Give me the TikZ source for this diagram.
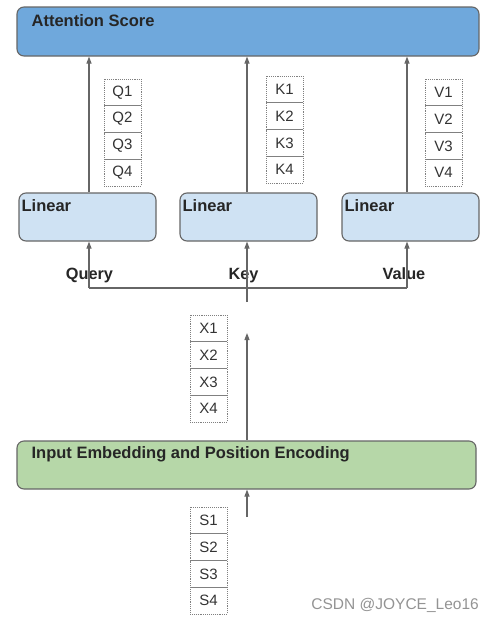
\documentclass[tikz,border=0pt]{standalone}
\usepackage{fontspec}
\setmainfont{Liberation Sans}
\usetikzlibrary{arrows.meta}

\definecolor{scoreblue}{HTML}{6FA8DC}
\definecolor{linblue}{HTML}{CFE2F3}
\definecolor{embgreen}{HTML}{B6D7A8}
\definecolor{edgegray}{HTML}{666666}

\begin{document}
\begin{tikzpicture}
[
    x=1pt, y=-1pt,
    block/.style={draw=edgegray, line width=1.1pt, rounded corners=7pt, inner sep=0pt},
    boxtitle/.style={anchor=north west, inner sep=0pt, font=\fontsize{16.5}{19}\selectfont\bfseries, text=black!85},
    cell/.style={draw=gray, densely dotted, line width=0.9pt, minimum width=37pt, minimum height=26.75pt, inner sep=0pt, font=\fontsize{15}{18}\selectfont, text=black!80},
    flow/.style={draw=edgegray, line width=1.1pt},
    feed/.style={flow, -{Triangle[width=5pt,length=7pt]}},
    port/.style={anchor=base, inner sep=0pt, font=\fontsize{16.3}{19}\selectfont\bfseries, text=black!85},
]
\useasboundingbox (0,0) rectangle (494,622);

\node[block, fill=scoreblue, minimum width=462pt, minimum height=49pt] (score) at (248,31.5) {};
\node[boxtitle] (scoretitle) at ([xshift=15pt,yshift=-8pt]score.north west) {Attention Score};

\foreach \name/\cx in {q/87.5, k/248.5, v/410.5}
{
    \node[block, fill=linblue, minimum width=137pt, minimum height=48pt] (lin\name) at (\cx,217) {};
    \node[boxtitle] (lin\name title) at ([xshift=3pt,yshift=-7pt]lin\name.north west) {Linear};
}

\node[block, fill=embgreen, minimum width=459pt, minimum height=48pt] (embed) at (246.5,465) {};
\node[boxtitle] (embedtitle) at ([xshift=15pt,yshift=-6pt]embed.north west) {Input Embedding and Position Encoding};

\foreach \col/\cx/\top in {Q/122.5/79, K/284.5/76, V/443.5/79, X/208.5/315, S/208.5/507}
    \foreach \i in {1,...,4}
        \node[cell] (\col\i) at (\cx,\top+26.75*\i-13.375) {\col\i};

\node[port] (query) at (89.5,279) {Query};
\node[port] (key) at (243.5,279) {Key};
\node[port] (value) at (404,279) {Value};

\coordinate (qin) at (89,288);
\coordinate (vin) at (407,288);
\coordinate (xtop) at (247,302);
\coordinate (xhead) at (247,333);
\coordinate (sfoot) at (247,517);

\draw[feed] (linq.north -| qin) -- (score.south -| qin);
\draw[feed] (link.north -| xtop) -- (score.south -| xtop);
\draw[feed] (linv.north -| vin) -- (score.south -| vin);

\draw[flow] (qin) -- (vin);
\draw[feed] (qin) -- (linq.south -| qin);
\draw[feed] (vin) -- (linv.south -| vin);
\draw[feed] (xtop) -- (link.south -| xtop);

\draw[feed] (embed.north -| xhead) -- (xhead);
\draw[feed] (sfoot) -- (embed.south -| sfoot);

\node[anchor=base east, inner sep=0pt, text=gray!85, font=\fontsize{15.5}{18}\selectfont] (mark) at (479,609) {CSDN @JOYCE\_Leo16};
\end{tikzpicture}
\end{document}
